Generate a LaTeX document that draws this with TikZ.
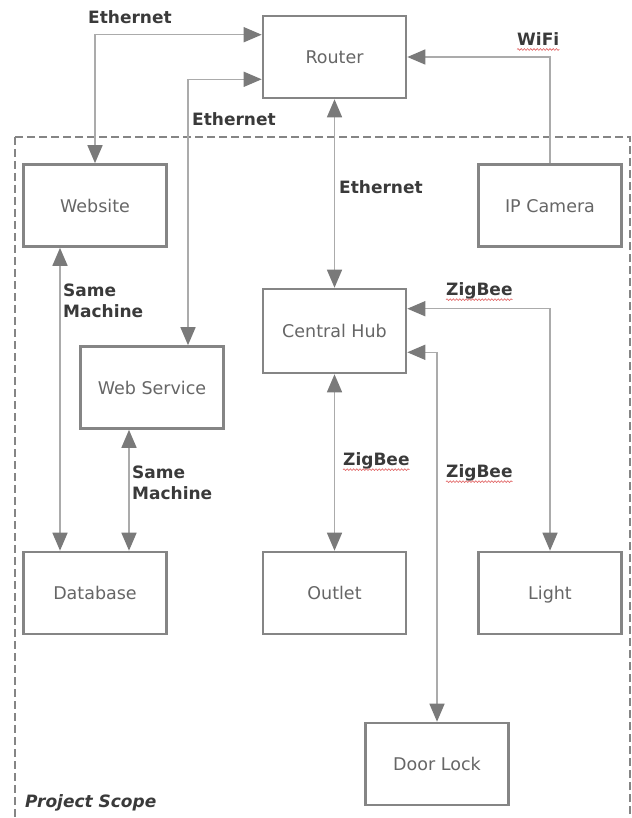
\documentclass[tikz,border=0pt]{standalone}
\usepackage{fontspec}
\setmainfont{DejaVu Sans}
\usetikzlibrary{arrows.meta,calc,decorations.pathmorphing}
\definecolor{boxgray}{HTML}{858585}
\definecolor{linegray}{HTML}{ABABAB}
\definecolor{tipgray}{HTML}{7A7A7A}
\definecolor{boxtext}{HTML}{666666}
\definecolor{lbltext}{HTML}{3A3A3A}
\definecolor{squig}{HTML}{E06060}
\tikzset{
  box/.style={draw=boxgray, line width=2.6pt, fill=white, minimum width=143pt, minimum height=82pt,
    inner sep=0pt, text=boxtext, text height=14pt, text depth=1pt, font=\fontsize{17.5}{20}\selectfont},
  conn/.style={draw=linegray, line width=1.5pt},
  tipA/.style={-{Triangle[length=18pt,width=15pt,color=tipgray]}},
  tipB/.style={{Triangle[length=18pt,width=15pt,color=tipgray]}-{Triangle[length=18pt,width=15pt,color=tipgray]}},
  lbl/.style={anchor=west, inner sep=0pt, text=lbltext, align=left,
    font=\bfseries\fontsize{17}{21}\selectfont},
  squiggle/.style={draw=squig, line width=0.6pt, decorate,
    decoration={snake, amplitude=0.9pt, segment length=3.2pt}},
}
\begin{document}
\begin{tikzpicture}[x=1pt,y=-1pt]
\useasboundingbox (0,0) rectangle (631,818);
% project scope
\draw[draw=boxgray, line width=1.8pt, dash pattern=on 8pt off 4pt] (15,137) rectangle (630,840);
\node[anchor=west, inner sep=0pt, text=lbltext, font=\bfseries\itshape\fontsize{17}{20}\selectfont] (scope) at (25,803) {Project Scope};
% boxes
\node[box] (router) at (334.5,57) {Router};
\node[box] (website) at (95,205.5) {Website};
\node[box] (camera) at (550,205.5) {IP Camera};
\node[box, minimum height=84pt] (hub) at (334.5,331) {Central Hub};
\node[box] (websvc) at (152,387.5) {Web Service};
\node[box] (database) at (95,593) {Database};
\node[box] (outlet) at (334.5,593) {Outlet};
\node[box] (light) at (550,593) {Light};
\node[box] (door) at (437,764) {Door Lock};
% connectors
\draw[conn,tipB] ($(router.north west)+(0,20)$) -| (website.north);
\coordinate (wsup) at ($(websvc.north)+(36,0)$);
\draw[conn,tipB] ($(router.south west)+(0,-20)$) -| (wsup);
\draw[conn,tipB] (router.south) -- (hub.north);
\draw[conn,tipA] (camera.north) |- (router.east);
\coordinate (wdb) at ($(website.south)+(-35,0)$);
\draw[conn,tipB] (wdb) -- (wdb |- database.north);
\coordinate (sdb) at ($(websvc.south)+(-23,0)$);
\draw[conn,tipB] (sdb) -- (sdb |- database.north);
\draw[conn,tipB] (hub.south) -- (outlet.north);
\draw[conn,tipB] ($(hub.north east)+(0,21)$) -| (light.north);
\draw[conn,tipB] ($(hub.south east)+(0,-22)$) -| (door.north);
% labels
\node[lbl] (l1) at (88,17) {Ethernet};
\node[lbl] (l2) at (192,119) {Ethernet};
\node[lbl] (l3) at (339,187) {Ethernet};
\node[lbl] (l4) at (517,39) {WiFi};
\node[lbl] (l5) at (63,301) {Same\\Machine};
\node[lbl] (l6) at (132,483) {Same\\Machine};
\node[lbl] (l7) at (446,291) {ZigBee};
\node[lbl] (l8) at (343,461) {ZigBee};
\node[lbl] (l9) at (446,473) {ZigBee};
% spell-check squiggles
\foreach \n in {l4,l7,l8,l9}{
  \draw[squiggle] ($(\n.base west)+(0,4)$) -- ($(\n.base east)+(0,4)$);
}
\end{tikzpicture}
\end{document}
